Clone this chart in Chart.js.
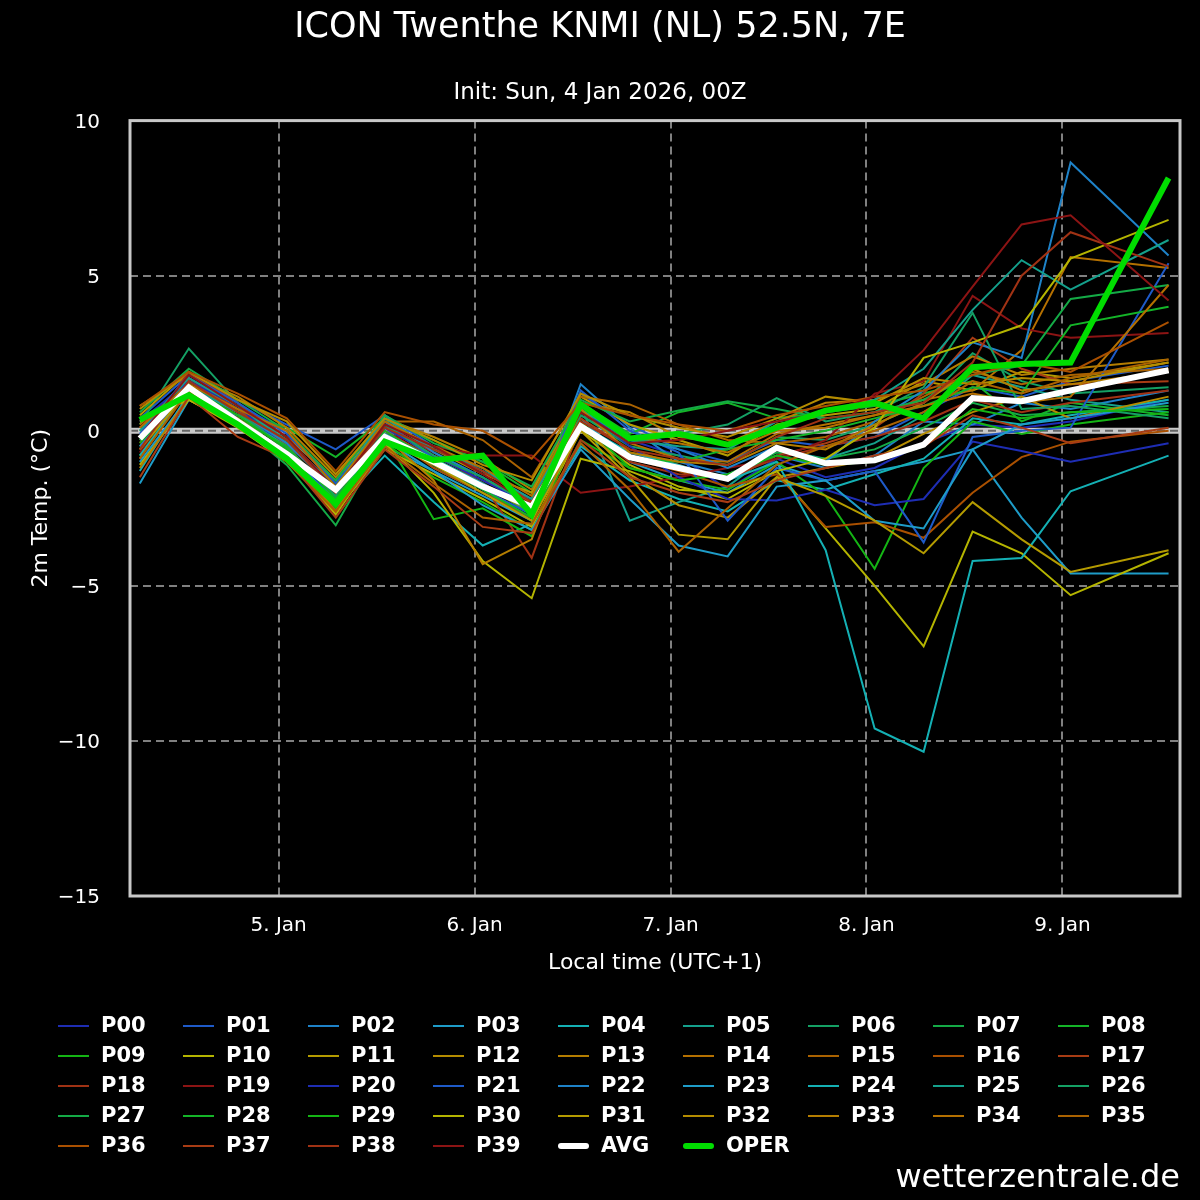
<!DOCTYPE html>
<html lang="en">
<head>
    <meta charset="UTF-8">
    <title>ICON Twenthe KNMI (NL) 52.5N, 7E</title>
    <style>
        html, body { margin: 0; padding: 0; background: #000; }
        canvas { display: block; }
    </style>
</head>
<body>
    <canvas id="ensChart" width="1200" height="1200"></canvas>

    <script src="https://cdn.jsdelivr.net/npm/chart.js"></script>

    <script>
        // hours since 4 Jan 00:00 local time (UTC+1); 6-hourly, last step 12-hourly
        const hours = [7, 13, 19, 25, 31, 37, 43, 49, 55, 61, 67, 73, 79, 85, 91, 97, 103, 109, 115, 121, 133];

        const dayTicks = [24, 48, 72, 96, 120];
        const dayLabels = ['5. Jan', '6. Jan', '7. Jan', '8. Jan', '9. Jan'];
        const tempTicks = [-15, -10, -5, 0, 5, 10];

        // ensemble members (2m temperature, °C)
        const p00 = [-0.9, 1.7, 0.8, 0.0, -1.8, 0.2, -0.7, -1.5, -2.6, 0.6, -0.3, -0.8, -1.9, -0.9, -1.5, -1.2, -0.4, 0.2, 0.1, 0.3, 1.0];
        const p01 = [0.4, 1.8, 1.0, 0.2, -0.6, 0.5, -0.5, -1.3, -2.2, 1.2, 0.2, -0.6, -1.0, -0.3, -0.5, -0.2, 0.6, 1.4, 1.1, 1.6, 2.1];
        const p02 = [-0.6, 1.3, 0.4, -0.7, -2.2, 0.1, -1.2, -2.0, -2.8, 1.5, 0.1, -1.0, -1.4, -0.8, -1.2, -0.8, 0.3, 0.2, 0.9, 0.7, 1.3];
        const p03 = [-1.7, 1.0, 0.2, -0.9, -2.4, -0.5, -1.3, -2.1, -2.9, 0.4, -1.0, -1.6, -2.0, -1.1, -1.6, -1.3, -1.0, -0.6, -2.8, -4.6, -4.6];
        const p04 = [-1.3, 1.2, 0.5, -0.4, -2.5, -0.8, -2.3, -3.7, -3.0, -0.5, -1.6, -2.2, -2.6, -1.6, -1.9, -1.4, -0.9, 0.4, 0.2, 0.5, 1.0];
        const p05 = [-0.2, 1.6, 0.7, -0.3, -2.0, 0.3, -0.6, -1.2, -2.3, 0.8, -2.9, -2.3, -1.8, -0.6, -0.9, -0.4, 0.5, 1.8, 1.4, 1.0, 0.6];
        const p06 = [0.2, 2.65, 0.9, -0.5, -2.1, 0.2, -0.9, -1.7, -2.7, 0.5, -0.5, -0.8, -1.1, -0.2, -0.3, 0.2, 0.9, 2.5, 1.6, 1.2, 1.4];
        const p07 = [-0.5, 1.5, 0.2, -1.1, -3.05, -0.3, -1.1, -1.9, -2.9, 0.2, -0.8, -1.2, -1.5, -0.7, -0.9, -0.6, 0.1, 0.9, 0.5, 0.6, 0.8];
        const p08 = [0.0, 1.1, 0.6, 0.1, -0.85, 0.4, -0.3, -1.0, -2.0, 0.9, -0.1, 0.6, 0.9, 0.4, 0.6, 0.8, 1.2, 1.6, 0.3, 0.9, 0.5];
        const p09 = [-0.8, 1.4, 0.3, -0.8, -2.4, -0.4, -1.5, -2.3, -3.2, -0.3, -1.2, -1.6, -1.9, -1.0, -2.1, -4.45, -1.2, 0.3, -0.1, 0.2, 0.6];
        const p10 = [-1.1, 1.0, 0.1, -1.0, -2.6, -0.6, -1.4, -2.2, -3.1, 0.0, -1.1, -1.8, -2.2, -1.3, -3.15, -5.0, -6.95, -3.25, -3.95, -5.3, -3.95];
        const p11 = [0.5, 1.9, 0.8, -0.2, -1.6, 0.3, -0.6, -1.4, -2.0, 1.1, 0.2, -0.3, -0.8, 0.2, 0.5, 0.7, 1.6, 1.3, 1.9, 1.7, 2.2];
        const p12 = [-0.3, 1.2, 0.3, -0.8, -2.3, -0.2, -1.0, -1.8, -2.6, 0.3, -1.4, -2.4, -2.8, -1.5, -1.2, -0.9, -0.1, 0.6, 1.1, 0.4, 1.1];
        const p13 = [0.8, 1.8, 1.1, 0.1, -1.5, 0.4, -0.2, -0.9, -1.9, 0.9, 0.6, -0.2, -0.4, 0.3, 0.9, 1.0, 1.5, 2.4, 1.8, 2.0, 2.3];
        const p14 = [0.2, 1.6, 0.6, -0.4, -1.9, 0.1, -0.8, -1.6, -2.3, 0.6, -0.4, -0.9, -1.0, -0.1, 0.2, 0.5, 1.0, 1.3, 2.6, 5.6, 5.25];
        const p15 = [-0.6, 1.3, 0.5, -0.3, -2.0, 0.3, 0.3, -0.3, -1.5, 1.1, 0.85, 0.2, -0.3, -0.4, -0.2, 0.3, 1.1, 1.9, 1.5, 1.8, 2.0];
        const p16 = [-0.9, 1.4, 0.2, -0.9, -2.5, -0.1, -1.2, -2.0, -2.8, 0.1, -0.9, -1.3, -1.8, -1.4, -3.1, -2.95, -3.45, -2.0, -0.85, -0.35, 0.0];
        const p17 = [0.1, 1.7, 0.7, -0.5, -2.2, 0.0, -0.9, -1.7, -2.5, 0.4, -0.6, -1.1, -1.6, -0.8, -0.4, 0.1, 1.2, 3.0, 2.0, 1.5, 1.6];
        const p18 = [-0.4, 1.9, 0.9, -0.2, -2.0, 0.2, -0.7, -1.7, -4.1, 0.2, -1.0, -1.4, -1.5, -0.9, -0.5, -0.2, 0.3, 1.0, 0.6, 0.9, 1.3];
        const p19 = [-0.7, 1.5, 0.5, -0.5, -2.1, -0.1, -0.5, -0.8, -0.8, -2.0, -1.8, -1.5, -1.2, -0.9, -0.3, 1.2, 1.6, 4.35, 3.3, 3.0, 3.15];
        const p20 = [0.3, 1.6, 0.8, -0.6, -2.3, 0.1, -0.8, -1.6, -2.4, 0.7, -0.5, -1.5, -2.2, -2.25, -1.9, -2.4, -2.2, -0.35, -0.65, -1.0, -0.4];
        const p21 = [-0.1, 1.8, 0.9, -0.1, -1.7, 0.3, -0.9, -1.9, -2.7, 1.3, 0.0, -0.7, -2.9, -1.2, -1.6, -1.3, -3.6, -0.2, 0.0, 0.1, 5.4];
        const p22 = [-0.5, 1.4, 0.6, -0.4, -1.9, 0.5, -0.7, -1.5, -2.4, 0.9, -0.2, -0.6, -1.2, -0.5, -1.0, 0.3, 1.3, 2.85, 2.35, 8.65, 5.65];
        const p23 = [-1.0, 1.1, 0.4, -0.7, -2.3, -0.3, -1.3, -2.4, -3.2, -0.6, -2.2, -3.7, -4.05, -1.8, -1.6, -2.9, -3.15, -0.6, 0.2, 0.4, 0.9];
        const p24 = [-0.8, 1.3, 0.5, -0.5, -2.2, -0.1, -0.9, -1.7, -2.6, 0.2, -0.7, -1.1, -1.6, -1.0, -3.85, -9.6, -10.35, -4.2, -4.1, -1.95, -0.8];
        const p25 = [0.0, 1.7, 0.8, -0.3, -1.8, 0.4, -0.6, -1.3, -2.2, 0.7, -0.3, -0.5, -0.6, 0.3, 0.6, 1.0, 2.0, 3.9, 5.5, 4.55, 6.15];
        const p26 = [-0.3, 1.5, 0.6, -0.6, -2.1, 0.2, -0.8, -1.5, -2.4, 0.5, -0.4, -0.1, 0.2, 1.05, 0.3, 0.6, 1.4, 3.8, 0.7, 0.8, 0.4];
        const p27 = [0.6, 2.0, 1.0, 0.0, -1.6, 0.5, -0.4, -1.0, -1.8, 1.0, 0.3, 0.65, 0.95, 0.7, 0.4, 0.6, 1.0, 1.8, 2.1, 4.25, 4.7];
        const p28 = [-0.2, 1.2, 0.4, -0.5, -2.2, 0.0, -1.0, -1.9, -2.8, 0.1, -0.9, -1.0, -0.6, -0.3, 0.0, 0.4, 0.8, 1.4, 1.2, 3.4, 4.0];
        const p29 = [-0.4, 1.4, 0.5, -0.6, -2.5, -0.2, -2.85, -2.5, -3.4, 0.3, -1.2, -1.6, -1.4, -0.8, -1.1, -1.0, -0.5, 0.7, 0.4, 0.6, 0.7];
        const p30 = [0.3, 1.0, 0.2, -0.9, -2.7, -0.4, -2.0, -4.2, -5.4, -0.9, -1.3, -1.9, -2.0, -1.3, -0.9, 0.1, 2.35, 2.85, 3.4, 5.55, 6.8];
        const p31 = [-0.6, 1.3, 0.3, -0.8, -2.4, -0.3, -1.1, -2.0, -2.9, 0.0, -1.5, -3.35, -3.5, -1.5, -2.1, -2.9, -3.95, -2.3, -3.5, -4.55, -3.85];
        const p32 = [0.7, 1.9, 1.0, 0.3, -1.4, 0.4, -0.3, -1.1, -1.6, 1.2, 0.5, 0.1, -0.2, 0.4, 1.1, 0.9, 1.7, 1.5, 1.7, 1.6, 2.2];
        const p33 = [-1.2, 1.1, 0.4, -0.7, -2.6, -0.2, -1.6, -4.3, -3.5, 0.7, -0.7, -1.0, -1.1, -0.4, -0.6, 0.2, 0.9, 2.0, 1.3, 1.5, 1.9];
        const p34 = [0.1, 1.5, 0.7, 0.0, -1.8, 0.3, -0.5, -1.2, -2.1, 0.8, -0.2, -0.4, -0.7, 0.0, 0.1, 0.5, 0.8, 1.2, 0.9, 1.1, 4.7];
        const p35 = [-0.9, 1.3, 0.2, -1.0, -2.6, -0.5, -1.7, -2.8, -3.0, -0.4, -1.9, -3.9, -2.5, -1.1, -0.5, 0.0, 0.6, 1.6, 1.2, 1.7, 2.3];
        const p36 = [0.8, 1.9, 1.2, 0.4, -1.3, 0.6, 0.2, 0.0, -0.9, 0.9, 0.5, 0.2, 0.0, 0.5, 0.8, 1.1, 1.3, 1.8, 2.2, 1.9, 3.5];
        const p37 = [-1.5, 1.1, -0.2, -0.9, -2.8, -0.6, -1.8, -3.1, -3.3, -0.3, -1.5, -2.0, -2.3, -1.6, -1.2, -0.8, -0.5, 0.5, 0.1, -0.4, 0.1];
        const p38 = [-0.6, 1.6, 0.6, -0.3, -2.0, 0.1, -0.6, -1.3, -2.3, 0.3, -0.6, -0.9, -1.1, -0.2, 0.4, 0.6, 0.9, 2.2, 5.0, 6.4, 5.3];
        const p39 = [-0.2, 1.8, 0.8, -0.2, -1.9, 0.2, -0.5, -1.4, -2.4, 0.6, -0.4, -0.3, 0.0, 0.3, 0.6, 1.1, 2.6, 4.65, 6.65, 6.95, 4.2];

        const avg  = [-0.25, 1.4, 0.3, -0.75, -1.9, -0.2, -1.0, -1.8, -2.45, 0.15, -0.85, -1.2, -1.55, -0.55, -1.05, -0.95, -0.45, 1.05, 0.95, 1.3, 1.95];
        const oper = [0.35, 1.15, 0.2, -0.9, -2.35, -0.35, -0.95, -0.8, -2.7, 0.85, -0.25, -0.1, -0.45, 0.1, 0.65, 0.9, 0.4, 2.05, 2.15, 2.2, 8.15];

        const members = [p00, p01, p02, p03, p04, p05, p06, p07, p08, p09,
                         p10, p11, p12, p13, p14, p15, p16, p17, p18, p19,
                         p20, p21, p22, p23, p24, p25, p26, p27, p28, p29,
                         p30, p31, p32, p33, p34, p35, p36, p37, p38, p39];

        // colour cycle for the members (repeats every 20)
        const memberColors = ['#1e2db4', '#1e5ac8', '#1e82c8', '#1e9cc8', '#14b0b4', '#14a08c', '#14a064', '#14aa46', '#14b428', '#14b414',
                              '#b4b400', '#b49b00', '#b48c00', '#b47d00', '#b47000', '#aa6200', '#aa5000', '#a83c14', '#a03214', '#8c1414'];

        const FONT = 'DejaVu Sans';

        const toPoints = vals => vals.map((v, k) => ({ x: hours[k], y: v }));

        const datasets = members.map((vals, i) => ({
            label: 'P' + String(i).padStart(2, '0'),
            data: toPoints(vals),
            borderColor: memberColors[i % 20],
            borderWidth: 2,
            order: 100 - i
        }));
        datasets.push({ label: 'AVG', data: toPoints(avg), borderColor: '#ffffff', borderWidth: 6, order: 1 });
        datasets.push({ label: 'OPER', data: toPoints(oper), borderColor: '#00dd00', borderWidth: 6, order: 0 });

        // thick light zero line with dashes on top
        const zeroLine = {
            id: 'zeroLine',
            beforeDatasetsDraw(chart) {
                const { ctx, chartArea: a } = chart;
                const py = chart.scales.y.getPixelForValue(0);
                ctx.save();
                ctx.strokeStyle = '#c8c8c8';
                ctx.lineWidth = 6;
                ctx.beginPath(); ctx.moveTo(a.left, py); ctx.lineTo(a.right, py); ctx.stroke();
                ctx.strokeStyle = '#646464';
                ctx.lineWidth = 2;
                ctx.setLineDash([8, 5]);
                ctx.beginPath(); ctx.moveTo(a.left, py); ctx.lineTo(a.right, py); ctx.stroke();
                ctx.restore();
            }
        };

        // grey frame around the plot
        const frame = {
            id: 'frame',
            afterDatasetsDraw(chart) {
                const { ctx, chartArea: a } = chart;
                ctx.save();
                ctx.strokeStyle = '#c8c8c8';
                ctx.lineWidth = 3;
                ctx.strokeRect(a.left, a.top, a.right - a.left, a.bottom - a.top);
                ctx.restore();
            }
        };

        // legend in a 9 column grid + watermark
        const gridLegend = {
            id: 'gridLegend',
            afterDraw(chart) {
                const ctx = chart.ctx;
                ctx.save();
                ctx.font = 'bold 21px "' + FONT + '"';
                ctx.textBaseline = 'middle';
                ctx.textAlign = 'left';
                ctx.fillStyle = '#ffffff';
                chart.data.datasets.forEach((ds, i) => {
                    const x = 58 + (i % 9) * 125;
                    const y = 1026 + Math.floor(i / 9) * 30;
                    const thick = ds.borderWidth > 2;
                    ctx.strokeStyle = ds.borderColor;
                    ctx.lineWidth = ds.borderWidth;
                    ctx.lineCap = thick ? 'round' : 'butt';
                    ctx.beginPath();
                    ctx.moveTo(x + (thick ? 3 : 0), y);
                    ctx.lineTo(x + (thick ? 28 : 31), y);
                    ctx.stroke();
                    ctx.fillText(ds.label, x + 43, y + 1);
                });
                ctx.font = '32px "' + FONT + '"';
                ctx.textAlign = 'right';
                ctx.fillText('wetterzentrale.de', 1180, 1179);
                ctx.restore();
            }
        };

        const ctxEns = document.getElementById('ensChart').getContext('2d');

        const ensChart = new Chart(ctxEns, {
            type: 'line',
            data: { datasets: datasets },
            plugins: [zeroLine, frame, gridLegend],
            options: {
                responsive: false,
                animation: false,
                devicePixelRatio: 1,
                layout: { padding: { bottom: 214 } },
                elements: {
                    point: { radius: 0 },
                    line: { tension: 0, fill: false }
                },
                plugins: {
                    legend: { display: false },
                    tooltip: { enabled: false },
                    title: {
                        display: true,
                        text: 'ICON Twenthe KNMI (NL) 52.5N, 7E',
                        color: '#ffffff',
                        font: { family: FONT, size: 35, weight: 'normal' },
                        padding: { top: 7, bottom: 0 }
                    },
                    subtitle: {
                        display: true,
                        text: 'Init: Sun, 4 Jan 2026, 00Z',
                        color: '#ffffff',
                        font: { family: FONT, size: 23 },
                        padding: { top: 30, bottom: 14 }
                    }
                },
                scales: {
                    x: {
                        type: 'linear',
                        min: 5.8,
                        max: 134.4,
                        afterBuildTicks: s => { s.ticks = dayTicks.map(v => ({ value: v })); },
                        afterFit: s => { s.height = 90; },
                        grid: { color: '#808080', lineWidth: 2, drawTicks: false },
                        border: { display: false, dash: [8, 5] },
                        ticks: {
                            color: '#ffffff',
                            font: { family: FONT, size: 20 },
                            padding: 18,
                            maxRotation: 0,
                            autoSkip: false,
                            callback: v => dayLabels[dayTicks.indexOf(v)]
                        },
                        title: {
                            display: true,
                            text: 'Local time (UTC+1)',
                            color: '#ffffff',
                            font: { family: FONT, size: 22 },
                            padding: { top: 0, bottom: 10 }
                        }
                    },
                    y: {
                        min: -15,
                        max: 10,
                        afterBuildTicks: s => { s.ticks = tempTicks.map(v => ({ value: v })); },
                        afterFit: s => { s.width = 130; },
                        grid: { color: '#808080', lineWidth: 2, drawTicks: false },
                        border: { display: false, dash: [8, 5] },
                        ticks: {
                            color: '#ffffff',
                            font: { family: FONT, size: 20 },
                            padding: 30,
                            labelOffset: 2,
                            callback: v => v < 0 ? '\u2212' + Math.abs(v) : String(v)
                        },
                        title: {
                            display: true,
                            text: '2m Temp. (°C)',
                            color: '#ffffff',
                            font: { family: FONT, size: 22 },
                            padding: { top: 28, bottom: 0 }
                        }
                    },
                    yRight: {
                        position: 'right',
                        afterFit: s => { s.width = 20; },
                        grid: { display: false },
                        border: { display: false },
                        ticks: { display: false }
                    }
                }
            }
        });
    </script>
</body>
</html>
